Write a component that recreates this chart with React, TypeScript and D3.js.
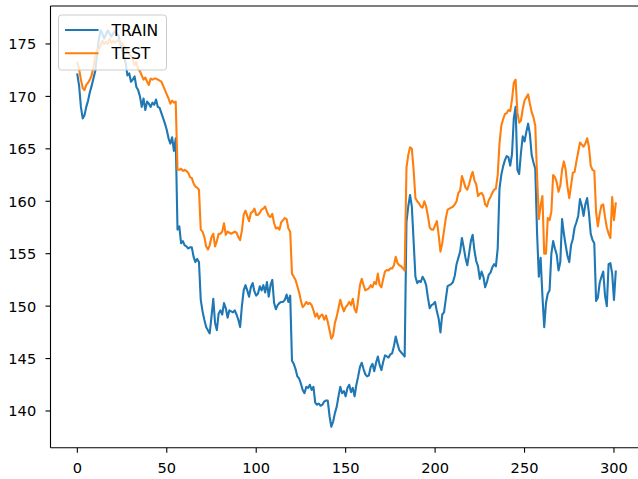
import React from "react";
import * as d3 from "d3";

const TRAIN: number[] = [
  172.1, 171.0, 169.0, 167.9, 168.2, 169.0, 169.6, 170.4, 171.0, 171.7,
  172.4, 174.0, 175.4, 176.3, 176.0, 175.5, 175.9, 176.3, 176.0, 175.7,
  176.0, 176.2, 176.0, 175.8, 175.0, 174.5, 173.8, 173.2, 172.0, 172.2,
  171.4, 171.6, 171.9, 170.9, 170.6, 170.0, 169.0, 169.8, 168.7, 169.5,
  169.3, 169.0, 169.4, 169.2, 169.7, 169.0, 168.9, 168.4, 167.9, 167.4,
  166.8, 166.0, 165.5, 166.1, 164.8, 166.0, 157.3, 157.6, 156.0, 156.2,
  155.8, 155.7, 155.5, 155.6, 155.6, 154.7, 154.2, 154.5, 154.2, 150.6,
  149.5, 148.7, 148.0, 147.7, 147.4, 149.0, 150.7, 148.4, 147.7, 149.3,
  149.6, 149.2, 150.3, 149.8, 148.9, 149.6, 149.5, 149.4, 149.6, 149.2,
  148.7, 148.0, 150.0, 151.5, 152.0, 151.5, 150.9, 151.8, 152.2, 151.4,
  151.0, 151.2, 151.9, 151.5, 152.0, 151.3, 152.3, 150.9, 152.0, 152.5,
  150.3, 149.7, 150.1, 150.3, 150.4, 150.4, 150.6, 151.1, 150.4, 151.0,
  144.8, 144.5, 144.0, 143.3, 143.1, 142.6, 142.0, 141.7, 142.3, 142.2,
  142.5, 142.0, 142.3, 140.8, 140.6, 140.7, 140.5, 140.6, 140.9, 141.0,
  141.0, 139.5, 138.5, 139.0, 139.8, 140.4, 141.4, 142.3, 141.7, 141.9,
  141.4, 142.2, 142.5, 141.8, 142.2, 141.4, 142.5, 143.3, 144.2, 144.6,
  144.0, 143.5, 143.3, 143.4, 144.2, 144.5, 143.8, 144.6, 145.2, 144.4,
  143.9, 144.7, 145.3, 145.2, 145.1, 145.4, 145.5, 146.2, 147.1, 146.4,
  145.8, 145.6, 145.4, 145.2, 158.0, 159.5, 160.6, 159.5, 156.2, 152.8,
  152.2, 152.4, 152.3, 152.8, 152.5, 152.0, 150.8, 149.8, 150.1, 150.2,
  150.4, 149.5, 148.8, 147.5, 149.2, 149.4, 150.7, 151.9, 152.0, 152.1,
  152.3, 152.9, 154.0, 154.6, 155.2, 156.5, 155.6, 154.6, 153.9, 155.0,
  156.2, 156.8, 155.3, 154.3, 153.8, 152.6, 153.3, 152.8, 151.8, 152.3,
  153.0, 153.2, 153.7, 154.0, 153.8, 155.5, 161.2, 162.5, 163.3, 163.9,
  164.3, 164.2, 163.4, 164.5, 167.9, 169.0, 163.0, 162.6, 164.6, 166.2,
  165.7, 166.6, 167.4, 166.4, 164.4, 163.7, 163.1, 157.0, 152.8, 154.6,
  151.0, 148.0, 150.3, 151.2, 151.5, 155.0, 156.2, 155.5, 154.9, 153.4,
  154.2, 158.3, 156.9, 155.8, 154.8, 154.2, 155.8, 156.4, 157.5, 158.0,
  158.6, 160.2, 159.6, 158.6, 159.7, 160.3, 158.9, 156.9, 156.3, 156.0,
  150.5, 150.8, 152.2, 152.8, 153.3, 151.0, 150.0, 154.0, 154.1, 153.1,
  150.6, 153.3,
];

const TEST: number[] = [
  173.2, 172.6, 171.6, 170.8, 170.6, 171.1, 171.3, 171.6, 172.0, 172.8,
  173.8, 174.4, 174.5, 174.8, 175.3, 175.0, 175.2, 175.0, 175.5, 175.1,
  175.3, 175.1, 175.3, 175.4, 175.0, 175.1, 174.8, 174.6, 174.3, 174.0,
  173.8, 173.5, 173.0, 173.3, 172.6, 172.4, 172.0, 171.6, 171.8, 171.4,
  171.1, 171.7, 171.6, 171.7, 171.7, 171.6, 171.5, 171.4, 171.0, 170.6,
  170.2, 169.8, 169.3, 169.6, 169.4, 169.5, 163.0, 163.0, 163.1, 162.9,
  163.0, 162.9, 162.7, 162.3, 162.2, 161.7, 161.4, 161.3, 161.1, 157.3,
  157.1, 156.6, 155.7, 155.4, 155.8, 156.6, 156.9, 155.7, 156.2, 156.9,
  156.9, 157.1, 157.9, 156.8, 157.1, 157.0, 156.9, 157.0, 157.1, 157.0,
  156.6, 156.3, 157.2, 158.7, 159.1, 158.6, 158.1, 158.9, 159.0, 159.3,
  158.7, 158.7, 158.9, 159.2, 159.3, 159.5, 159.0, 158.6, 158.5, 158.8,
  157.9, 157.4, 157.5, 157.3, 158.0, 158.2, 158.4, 158.3, 157.4, 157.1,
  153.1, 152.8, 152.5, 151.9, 151.3, 150.5, 149.9, 150.1, 150.4, 150.2,
  150.3, 150.1, 149.6, 149.0, 149.3, 148.8, 149.1, 149.2, 148.7, 149.1,
  148.5, 147.7, 146.9, 147.2, 148.4, 149.0, 149.8, 150.6, 150.0, 149.5,
  149.9, 150.1, 150.4, 150.1, 150.7, 149.7, 149.4, 150.6, 152.0, 152.6,
  152.0, 151.5, 151.6, 151.7, 152.0, 151.8, 152.3, 152.1, 153.1, 152.0,
  151.8, 152.6, 153.3, 153.45, 153.4, 153.6, 153.6, 153.9, 154.7, 154.1,
  153.9, 153.8, 153.6, 153.4, 163.2, 164.4, 165.15, 165.0, 163.0, 160.3,
  160.0, 159.8, 159.5, 159.4, 160.0, 159.5, 158.6, 157.5, 157.3, 157.3,
  157.7, 158.1, 156.8, 155.2, 156.0, 157.2, 158.4, 159.2, 159.3, 159.4,
  159.5, 159.7, 160.0, 160.8, 161.0, 162.4, 161.9, 161.3, 161.1, 161.6,
  162.3, 162.8, 162.0, 161.6, 160.5, 160.7, 160.8, 160.5, 159.7, 159.5,
  160.1, 160.4, 160.8, 161.1, 161.2, 162.5, 165.5, 167.2, 167.8, 168.3,
  168.4, 168.7, 168.6, 169.7, 171.3, 171.6, 168.5, 167.5, 167.7, 168.8,
  169.6, 169.9, 170.2, 169.3, 168.5, 168.0, 167.2, 162.5, 158.3, 159.6,
  160.5, 155.0, 155.0, 158.4, 158.2, 159.0, 162.5, 162.3, 161.8, 160.9,
  161.5, 163.0, 163.8, 163.0, 161.4, 160.3, 161.5, 162.7, 162.8, 163.8,
  164.7, 165.6, 165.4, 165.2, 165.5, 166.0, 165.2, 163.4, 163.0, 162.9,
  159.0, 157.6, 158.8, 159.6, 159.7, 158.5, 157.5, 156.9, 156.5, 160.4,
  158.2, 159.8,
];

const X_TICKS = [0, 50, 100, 150, 200, 250, 300];
const Y_TICKS = [140, 145, 150, 155, 160, 165, 170, 175];
const SERIES_NAMES = ["TRAIN", "TEST"];
const COLORS = ["#1f77b4", "#ff7f0e"];

const W = 638;
const H = 479;
const LEFT = 50.5;
const TOP = 6;
const BOTTOM = 447.7;
const RIGHT = 640.8;
const FONT = "DejaVu Sans, sans-serif";

export default function App() {
  const x = d3.scaleLinear().domain([-15, 315]).range([LEFT, RIGHT]);
  const y = d3.scaleLinear().domain([136.5, 178.62]).range([BOTTOM, TOP]);
  const line = d3
    .line<number>()
    .x((_, i) => x(i))
    .y((d) => y(d));
  const series = [TRAIN, TEST];

  return (
    <svg
      width={W}
      height={H}
      style={{ position: "absolute", left: 0, top: 0, background: "#fff" }}
    >
      <defs>
        <clipPath id="plot">
          <rect x={LEFT} y={TOP} width={RIGHT - LEFT} height={BOTTOM - TOP} />
        </clipPath>
      </defs>
      <rect width={W} height={H} fill="#fff" />
      <g clipPath="url(#plot)">
        {series.map((s, k) => (
          <path
            key={k}
            d={line(s) || ""}
            fill="none"
            stroke={COLORS[k]}
            strokeWidth={2.1}
            strokeLinejoin="round"
            strokeLinecap="square"
          />
        ))}
      </g>
      <g stroke="#000" strokeWidth={1.1} fill="none">
        <line x1={LEFT} y1={TOP} x2={LEFT} y2={BOTTOM} />
        <line x1={LEFT} y1={BOTTOM} x2={RIGHT} y2={BOTTOM} />
        <line x1={LEFT} y1={TOP} x2={RIGHT} y2={TOP} />
        <line x1={RIGHT} y1={TOP} x2={RIGHT} y2={BOTTOM} />
      </g>
      {X_TICKS.map((t) => (
        <g key={"x" + t}>
          <line
            x1={x(t)}
            x2={x(t)}
            y1={BOTTOM}
            y2={BOTTOM + 5}
            stroke="#000"
            strokeWidth={1.1}
          />
          <text
            x={x(t)}
            y={BOTTOM + 25.5}
            textAnchor="middle"
            fontFamily={FONT}
            fontSize={14.6}
            fill="#000"
          >
            {t}
          </text>
        </g>
      ))}
      {Y_TICKS.map((t) => (
        <g key={"y" + t}>
          <line
            x1={LEFT - 5}
            x2={LEFT}
            y1={y(t)}
            y2={y(t)}
            stroke="#000"
            strokeWidth={1.1}
          />
          <text
            x={LEFT - 14.3}
            y={y(t) + 5.4}
            textAnchor="end"
            fontFamily={FONT}
            fontSize={14.6}
            fill="#000"
          >
            {t}
          </text>
        </g>
      ))}
      <g>
        <rect
          x={58.5}
          y={15}
          width={108}
          height={55}
          rx={3}
          ry={3}
          fill="#fff"
          fillOpacity={0.8}
          stroke="#cccccc"
          strokeWidth={1}
        />
        {SERIES_NAMES.map((name, k) => (
          <g key={name}>
            <line
              x1={65}
              x2={98.5}
              y1={30 + k * 23.3}
              y2={30 + k * 23.3}
              stroke={COLORS[k]}
              strokeWidth={2.1}
            />
            <text
              x={111.5}
              y={35.5 + k * 23.3}
              fontFamily={FONT}
              fontSize={15.6}
              fill="#000"
            >
              {name}
            </text>
          </g>
        ))}
      </g>
    </svg>
  );
}
